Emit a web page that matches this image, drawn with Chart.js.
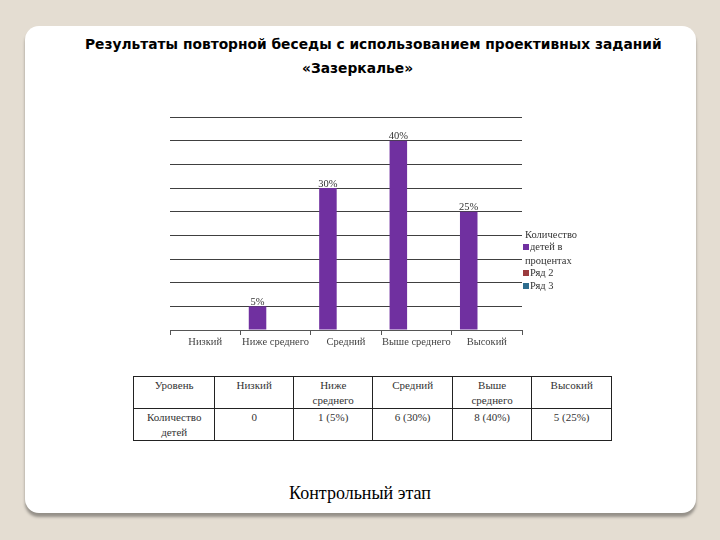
<!DOCTYPE html>
<html>
<head>
<meta charset="utf-8">
<script src="https://cdn.jsdelivr.net/npm/chart.js@4"></script>
<style>
  html, body { margin: 0; padding: 0; }
  body { width: 720px; height: 540px; background: #e4ddd2; position: relative; overflow: hidden; }
  #card { position: absolute; left: 25px; top: 26px; width: 671px; height: 487px; background: #fff;
          border-radius: 14px; box-shadow: 0 4px 3px rgba(0,0,0,0.35); }
  .title { position: absolute; white-space: nowrap; font-family: "DejaVu Sans", sans-serif;
           font-weight: bold; font-size: 13.8px; color: #000; }
  #wrap { position: absolute; left: 150px; top: 100px; width: 470px; height: 260px; }
  table { position: absolute; left: 133px; top: 376px; width: 479px; border-collapse: collapse;
          font-family: "Liberation Serif", serif; font-size: 11px; color: #333; border: 1.5px solid #222; }
  td { border: 1px solid #222; text-align: center; vertical-align: top; width: 80px; height: 28px;
       padding: 1px 2px 0 2px; line-height: 15px; }
  #stage { position: absolute; left: 0; width: 720px; top: 483px; text-align: center;
           font-family: "Liberation Serif", serif; font-size: 18px; color: #000; }
</style>
</head>
<body>
<div id="card"></div>
<div class="title" style="left:85px; top:36px">Результаты повторной беседы с использованием проективных заданий</div>
<div class="title" style="left:302px; top:60px">«Зазеркалье»</div>
<div id="wrap"><canvas id="chartCanvas" width="470" height="260"></canvas></div>
<table id="dataTable"></table>
<div id="stage">Контрольный этап</div>
<script>
// --- data ---
const levels = ["Низкий", "Ниже среднего", "Средний", "Выше среднего", "Высокий"];
const percentValues = [0, 5, 30, 40, 25];
const childCounts = [0, 1, 6, 8, 5];
const seriesNames = ["Количество детей в процентах", "Ряд 2", "Ряд 3"];
const seriesColors = ["#7030a0", "#9b3b3e", "#2e6d8e"];
const tableLevels = ["Низкий", "Ниже<br>среднего", "Средний", "Выше<br>среднего", "Высокий"];

// --- table under the chart ---
const table = document.getElementById("dataTable");
table.innerHTML =
  "<tr><td>Уровень</td>" + tableLevels.map(l => `<td>${l}</td>`).join("") + "</tr>" +
  "<tr><td>Количество<br>детей</td>" +
  childCounts.map((c, i) => `<td>${c === 0 ? "0" : `${c} (${percentValues[i]}%)`}</td>`).join("") + "</tr>";

// value labels above bars
const barLabels = {
  id: "barLabels",
  afterDatasetsDraw(chart) {
    const ctx = chart.ctx;
    const meta = chart.getDatasetMeta(0);
    ctx.save();
    ctx.font = "10.5px 'Liberation Serif'";
    ctx.fillStyle = "#333";
    ctx.textAlign = "center";
    ctx.textBaseline = "bottom";
    meta.data.forEach((bar, i) => {
      if (!percentValues[i]) return;
      ctx.fillText(percentValues[i] + "%", bar.x, bar.y + 1);
    });
    ctx.restore();
  }
};

// legend on the right (first label wraps on three lines)
const sideLegend = {
  id: "sideLegend",
  afterDraw(chart) {
    const ctx = chart.ctx;
    const x = chart.chartArea.right + 1;
    ctx.save();
    ctx.font = "10.5px 'Liberation Serif'";
    ctx.fillStyle = "#333";
    ctx.textBaseline = "middle";
    ctx.fillText("Количество", x + 2, 135);
    ctx.fillText("детей в", x + 7, 147);
    ctx.fillText("процентах", x + 2, 161);
    ctx.fillStyle = seriesColors[0];
    ctx.fillRect(x, 144, 6, 6);
    [1, 2].forEach((s, k) => {
      const y = 173 + k * 13;
      ctx.fillStyle = seriesColors[s];
      ctx.fillRect(x, y - 3, 6, 6);
      ctx.fillStyle = "#333";
      ctx.fillText(seriesNames[s], x + 7, y);
    });
    ctx.restore();
  }
};

new Chart(document.getElementById("chartCanvas"), {
  type: "bar",
  data: {
    labels: levels,
    datasets: [
      { label: seriesNames[0], data: percentValues, backgroundColor: seriesColors[0] },
      { label: seriesNames[1], data: levels.map(() => null), backgroundColor: seriesColors[1] },
      { label: seriesNames[2], data: levels.map(() => null), backgroundColor: seriesColors[2] }
    ]
  },
  options: {
    responsive: false,
    animation: false,
    categoryPercentage: 0.77,
    barPercentage: 0.97,
    layout: { padding: { left: 20, right: 98, top: 17, bottom: 10 } },
    plugins: { legend: { display: false }, tooltip: { enabled: false } },
    scales: {
      x: {
        afterFit: axis => { axis.height = 20; },
        border: { color: "#555", width: 1 },
        grid: { offset: true, drawOnChartArea: false, drawTicks: true, tickLength: 5, color: "#555" },
        ticks: { color: "#444", padding: 1, maxRotation: 0, autoSkip: false,
                 font: { family: "Liberation Serif", size: 10.5 } }
      },
      y: {
        min: 0, max: 45,
        afterFit: axis => { axis.width = 0; },
        border: { display: false },
        grid: { color: "#404040", drawTicks: false },
        ticks: { display: false, stepSize: 5 }
      }
    }
  },
  plugins: [barLabels, sideLegend]
});
</script>
</body>
</html>
